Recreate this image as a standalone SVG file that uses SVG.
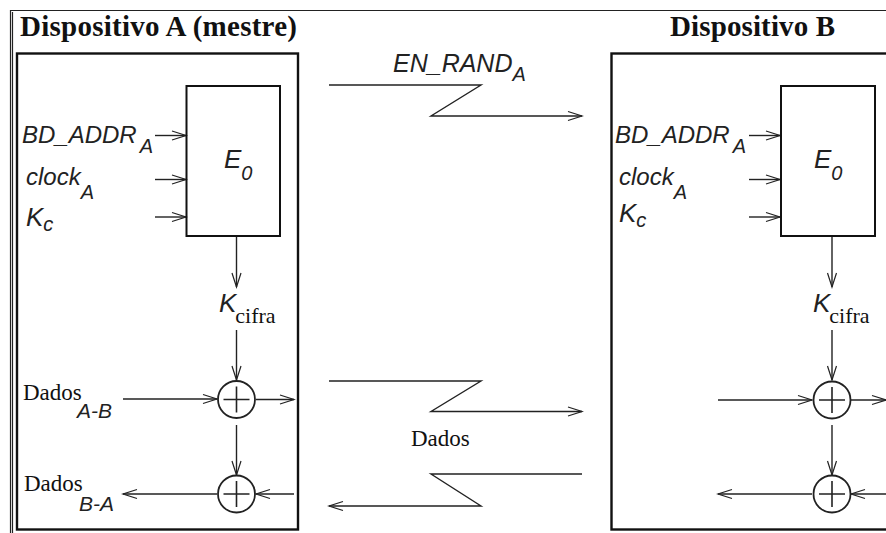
<svg xmlns="http://www.w3.org/2000/svg" width="886" height="533" viewBox="0 0 886 533">
<style>
.box{fill:none;stroke:#111;stroke-width:2.4}
.e{fill:none;stroke:#111;stroke-width:2}
.l{fill:none;stroke:#222;stroke-width:1.4;marker-end:url(#a)}
.p{fill:none;stroke:#222;stroke-width:1.6}
.x{fill:#fff;stroke:#222;stroke-width:1.8}
.t{font-family:"Liberation Serif",serif;font-size:23px;fill:#111}
.h{font-family:"Liberation Serif",serif;font-size:29px;font-weight:bold;fill:#111}
.i{font-family:"Liberation Sans",sans-serif;font-style:italic;font-size:24px;fill:#222}
.g{font-size:26px}
.b{font-size:20px}
.s{font-family:"Liberation Sans",sans-serif;font-style:italic;font-size:21px;fill:#222}
.c{font-family:"Liberation Serif",serif;font-style:normal;font-size:22px;fill:#111}
</style>
<defs>
<marker id="a" markerUnits="userSpaceOnUse" markerWidth="20" markerHeight="14" refX="17" refY="7" orient="auto">
<path d="M3 2.500 L17 7 L3 11.500" fill="none" stroke="#222" stroke-width="1.2"/>
</marker>
</defs>
<rect width="886" height="533" fill="#fff"/>
<g id="frame">
<path d="M10.500 533V10.500H886M12.500 533V12" fill="none" stroke="#222" stroke-width="1.2"/>
<text class="h" x="20" y="36" textLength="277">Dispositivo A (mestre)</text>
<text class="h" x="670" y="36" textLength="165">Dispositivo B</text>
</g>
<g id="connectors">
<path class="l" d="M155 135.500H186"/>
<path class="l" d="M155 179.500H186"/>
<path class="l" d="M155 217H186"/>
<path class="l" d="M236.500 237V287"/>
<path class="l" d="M236.500 330V380"/>
<path class="l" d="M123 399H217"/>
<path class="l" d="M256 399.500H294"/>
<path class="l" d="M236.500 425V475"/>
<path class="l" d="M217 494H123"/>
<path class="l" d="M294 494H256"/>
<path class="l" d="M749 135.500H780"/>
<path class="l" d="M749 179.500H780"/>
<path class="l" d="M749 217H780"/>
<path class="l" d="M832 237V287"/>
<path class="l" d="M832 330V380"/>
<path class="l" d="M718 400H812"/>
<path class="l" d="M851 400H886"/>
<path class="l" d="M832 425V475"/>
<path class="l" d="M812 494H718"/>
<path class="l" d="M886 494H851"/>
<path class="l" d="M329 85H481L431 116H582"/>
<path class="l" d="M329 381H481L431 411.500H582"/>
<path class="l" d="M582 474H431L481 506H329"/>
</g>
<g id="device-a">
<rect class="box" x="17" y="53.500" width="281" height="476"/>
</g>
<g id="e0-a">
<rect class="e" x="186.500" y="86" width="93.500" height="150"/>
<text class="i g" x="224" y="168">E<tspan class="b" dy="12">0</tspan></text>
</g>
<g id="inputs-a">
<text class="i" x="22" y="143">BD_ADDR<tspan class="b" dy="10" dx="3">A</tspan></text>
<text class="i" x="26" y="185">clock<tspan class="b" dy="14">A</tspan></text>
<text class="i g" x="26" y="226">K<tspan class="b" dy="5">c</tspan></text>
</g>
<g id="kcifra-a">
<text class="i g" x="219" y="312">K<tspan class="c" dy="11" dx="-1">cifra</tspan></text>
</g>
<g id="xor-a1">
<circle class="x" cx="236.500" cy="399.500" r="18.500"/>
<path class="p" d="M223.500 399.500H249.500M236.500 386.500V412.500"/>
</g>
<g id="xor-a2">
<circle class="x" cx="236.500" cy="494" r="18.500"/>
<path class="p" d="M223.500 494H249.500M236.500 481V507"/>
</g>
<g id="labels-a">
<text class="t" x="23" y="400">Dados</text>
<text class="s" x="77" y="418">A-B</text>
<text class="t" x="24" y="491">Dados</text>
<text class="s" x="79" y="511">B-A</text>
</g>
<g id="device-b">
<rect class="box" x="611.500" y="53.500" width="290" height="476"/>
</g>
<g id="e0-b">
<rect class="e" x="781" y="86" width="94" height="150"/>
<text class="i g" x="814" y="168">E<tspan class="b" dy="12">0</tspan></text>
</g>
<g id="inputs-b">
<text class="i" x="615" y="143">BD_ADDR<tspan class="b" dy="10" dx="3">A</tspan></text>
<text class="i" x="619" y="185">clock<tspan class="b" dy="14">A</tspan></text>
<text class="i g" x="619" y="222">K<tspan class="b" dy="5">c</tspan></text>
</g>
<g id="kcifra-b">
<text class="i g" x="813" y="312">K<tspan class="c" dy="11" dx="-1">cifra</tspan></text>
</g>
<g id="xor-b1">
<circle class="x" cx="832" cy="400" r="18.500"/>
<path class="p" d="M819 400H845M832 387V413"/>
</g>
<g id="xor-b2">
<circle class="x" cx="832" cy="494" r="18.500"/>
<path class="p" d="M819 494H845M832 481V507"/>
</g>
<g id="link-labels">
<text class="i" x="393" y="72" style="font-size:25px">EN_RAND<tspan class="b" dy="9">A</tspan></text>
<text class="t" x="411" y="446">Dados</text>
</g>
</svg>
